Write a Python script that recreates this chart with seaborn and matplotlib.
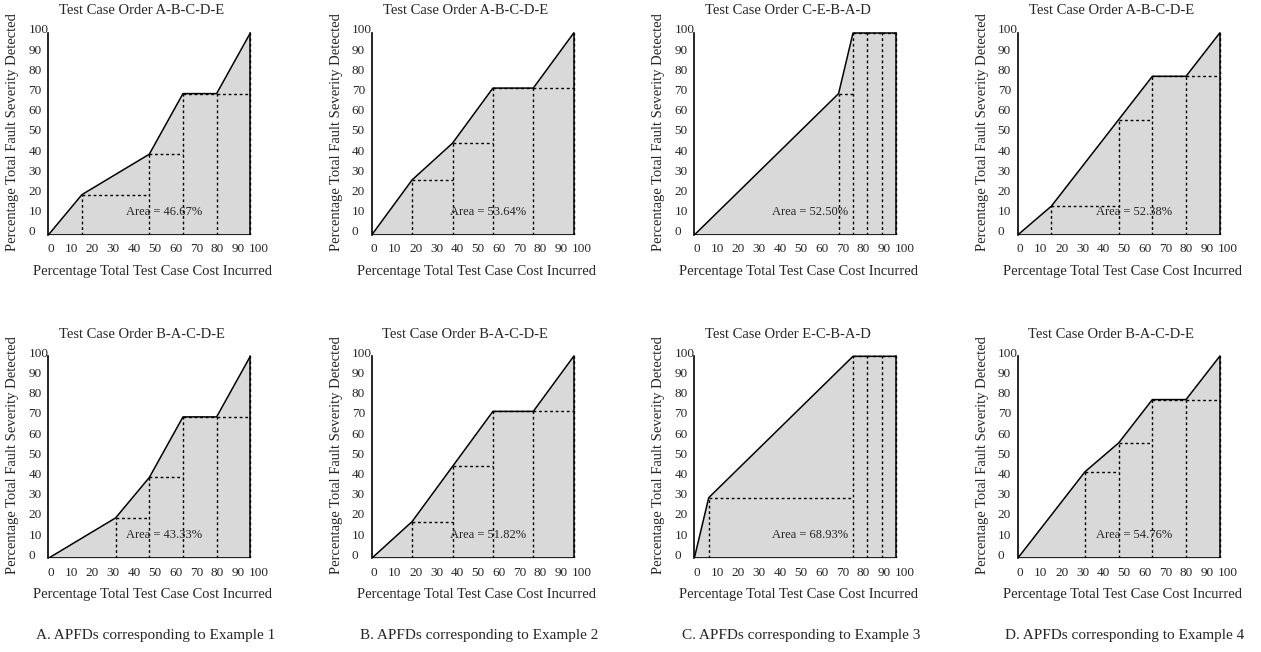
import numpy as np
import seaborn as sns
import matplotlib
matplotlib.use("Agg")
import matplotlib.pyplot as plt

sns.set_theme(style="white")
plt.rcParams['font.family'] = ['Liberation Serif', 'DejaVu Serif']

# test orders per panel (column = example, row = order)
orders_top = ["A-B-C-D-E", "A-B-C-D-E", "C-E-B-A-D", "A-B-C-D-E"]
orders_bottom = ["B-A-C-D-E", "B-A-C-D-E", "E-C-B-A-D", "B-A-C-D-E"]
captions = ["A. APFDs corresponding to Example 1",
            "B. APFDs corresponding to Example 2",
            "C. APFDs corresponding to Example 3",
            "D. APFDs corresponding to Example 4"]

# cumulative % cost (x) and % fault severity detected (y)
cost_1a = [0, 16.67, 50, 66.67, 83.33, 100]
sev_1a = [0, 20, 40, 70, 70, 100]
cost_1b = [0, 33.33, 50, 66.67, 83.33, 100]
sev_1b = [0, 20, 40, 70, 70, 100]
cost_2a = [0, 20, 40, 60, 80, 100]
sev_2a = [0, 27.27, 45.45, 72.73, 72.73, 100]
cost_2b = [0, 20, 40, 60, 80, 100]
sev_2b = [0, 18.18, 45.45, 72.73, 72.73, 100]
cost_3a = [0, 71.43, 78.57, 85.71, 92.86, 100]
sev_3a = [0, 70, 100, 100, 100, 100]
cost_3b = [0, 7.14, 78.57, 85.71, 92.86, 100]
sev_3b = [0, 30, 100, 100, 100, 100]
cost_4a = [0, 16.67, 50, 66.67, 83.33, 100]
sev_4a = [0, 14.29, 57.14, 78.57, 78.57, 100]
cost_4b = [0, 33.33, 50, 66.67, 83.33, 100]
sev_4b = [0, 42.86, 57.14, 78.57, 78.57, 100]

areas_top = ["46.67%", "53.64%", "52.50%", "52.38%"]
areas_bottom = ["43.33%", "51.82%", "68.93%", "54.76%"]

tick_vals = list(range(0, 101, 10))

panels_top = [(cost_1a, sev_1a), (cost_2a, sev_2a), (cost_3a, sev_3a), (cost_4a, sev_4a)]
panels_bottom = [(cost_1b, sev_1b), (cost_2b, sev_2b), (cost_3b, sev_3b), (cost_4b, sev_4b)]

W, H = 1261, 652
fig = plt.figure(figsize=(W / 100, H / 100), dpi=100)

scale = 2.02  # px per data unit
XMAX, YMAX = 106, 103
col_x0 = [48.3, 371.7, 694.3, 1017.7]
row_y0 = [235, 558.3]


def draw_panel(ax, cost, sev, order, area):
    ax.fill_between(cost, sev, 0, color="#d9d9d9", lw=0)
    sns.lineplot(x=cost, y=sev, ax=ax, color="black", lw=1.1,
                 sort=False, estimator=None)
    ax.plot([cost[-1], cost[-1]], [0, sev[-1]], color="black", lw=1.1)
    ax.plot([0, cost[-1]], [0, 0], color="black", lw=1.2)
    # dotted step rectangles
    for i in range(1, len(cost)):
        ax.plot([cost[i], cost[i]], [0, sev[i]], color="black", lw=1.0,
                ls=(0, (2, 2)))
        if i < len(cost) - 1:
            ax.plot([cost[i], cost[i + 1]], [sev[i], sev[i]], color="black",
                    lw=1.0, ls=(0, (2, 2)))
    ax.text(57.5, 11.5, "Area = " + area, ha="center", va="center", fontsize=9)

    ax.set_xlim(0, XMAX)
    ax.set_ylim(0, YMAX)
    for s in ["top", "right", "bottom"]:
        ax.spines[s].set_visible(False)
    ax.spines["left"].set_bounds(0, 100)
    ax.spines["left"].set_color("black")
    ax.spines["left"].set_linewidth(1.2)

    ax.set_xticks([v * 1.03 + 1.2 for v in tick_vals])
    ax.set_xticklabels([str(v) for v in tick_vals], fontsize=9.5)
    ax.set_yticks([v + 2 for v in tick_vals])
    ax.set_yticklabels([str(v) for v in tick_vals], fontsize=9.5, ha="left")
    ax.tick_params(axis="x", length=0, pad=6)
    ax.tick_params(axis="y", length=0, pad=14.4)

    ax.text(0.437, 1.078, "Test Case Order " + order, transform=ax.transAxes,
            ha="center", va="center", fontsize=10.5)
    ax.set_xlabel("Percentage Total Test Case Cost Incurred", fontsize=10.5)
    ax.xaxis.set_label_coords(0.488, -0.176)
    ax.xaxis.label.set_va("center")
    ax.set_ylabel("Percentage Total Fault Severity Detected", fontsize=10.5)
    ax.yaxis.set_label_coords(-0.165, 0.496)
    ax.yaxis.label.set_va("center")


for c in range(4):
    for r, (panels, orders, areas) in enumerate(
            [(panels_top, orders_top, areas_top),
             (panels_bottom, orders_bottom, areas_bottom)]):
        left = col_x0[c] / W
        bottom = (H - row_y0[r]) / H
        ax = fig.add_axes([left, bottom, XMAX * scale / W, YMAX * scale / H])
        ax.patch.set_alpha(0)
        cost, sev = panels[c]
        draw_panel(ax, cost, sev, orders[c], areas[c])
    fig.text((col_x0[c] + 53 * scale) / W, 1 - 635 / H, captions[c],
             ha="center", va="center", fontsize=11)

fig.savefig("out.png", dpi=100)
